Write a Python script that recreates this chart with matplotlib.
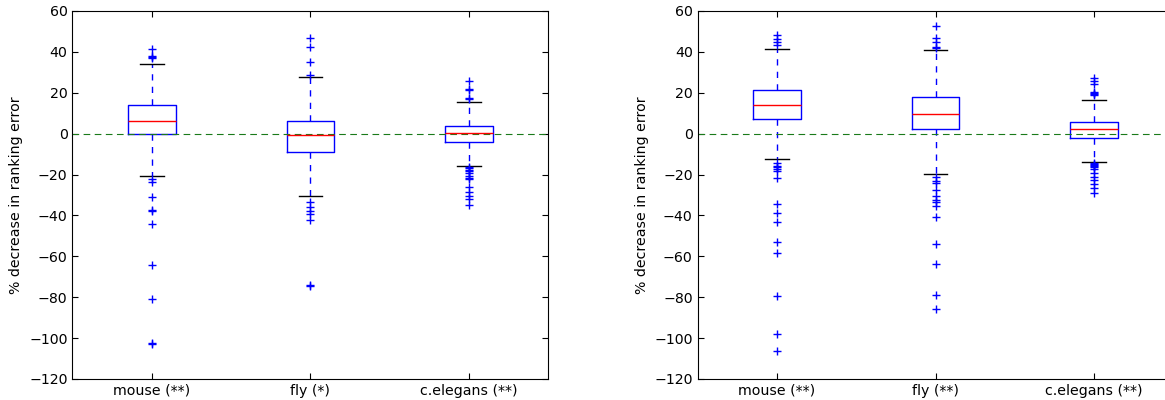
import matplotlib
matplotlib.use("Agg")
import matplotlib.pyplot as plt

categories_left = ["mouse (**)", "fly (*)", "c.elegans (**)"]
categories_right = ["mouse (**)", "fly (**)", "c.elegans (**)"]

# left panel: quartiles, medians, whisker ends, outliers
left_q1 = [0.0, -9.0, -4.1]
left_med = [6.4, -0.6, 0.3]
left_q3 = [13.9, 6.0, 3.6]
left_lo = [-20.5, -30.3, -15.8]
left_hi = [34.2, 27.9, 15.4]
left_fliers = [
    [37.0, 37.5, 38.2, 41.3, -22.3, -23.8, -31.0, -37.5, -38.0, -44.2, -64.2, -81.0, -102.3, -102.8],
    [28.7, 34.9, 42.4, 46.8, -33.3, -35.7, -37.7, -39.3, -42.0, -73.9, -74.3],
    [17.0, 17.3, 21.5, 22.0, 25.6, -16.4, -17.0, -17.8, -18.5, -19.4, -20.7, -21.5, -22.3,
     -25.9, -28.5, -30.3, -31.9, -35.1],
]

# right panel
right_q1 = [7.2, 2.4, -2.3]
right_med = [13.9, 9.8, 2.1]
right_q3 = [21.2, 18.1, 5.9]
right_lo = [-12.4, -19.9, -13.8]
right_hi = [41.6, 40.9, 16.6]
right_fliers = [
    [43.2, 44.9, 46.5, 48.3, -14.5, -15.6, -16.1, -17.1, -18.2, -21.8, -34.6, -38.6, -43.3,
     -53.0, -58.4, -79.4, -97.8, -106.2],
    [41.9, 42.6, 45.0, 46.7, 52.7, -21.3, -23.1, -24.3, -27.6, -30.5, -32.4, -33.3, -35.4,
     -41.0, -54.0, -63.6, -78.9, -85.6],
    [18.9, 19.3, 19.8, 20.6, 24.3, 25.9, 27.4, -14.5, -15.0, -15.5, -16.0, -16.5, -17.5,
     -19.4, -21.0, -22.6, -24.8, -26.7, -28.9],
]

plt.rcParams["font.family"] = "DejaVu Sans"
plt.rcParams["font.size"] = 10.2

fig = plt.figure(figsize=(11.65, 4.0), dpi=100)
W, H = 1165.0, 400.0
ax1 = fig.add_axes([72.4 / W, 21 / H, 476 / W, 368 / H])
ax2 = fig.add_axes([697.5 / W, 21 / H, 476 / W, 368 / H])


def draw(ax, cats, q1, med, q3, lo, hi, fliers):
    stats = []
    for i in range(len(cats)):
        stats.append(dict(med=med[i], q1=q1[i], q3=q3[i], whislo=lo[i],
                          whishi=hi[i], fliers=fliers[i], label=cats[i]))
    ax.bxp(stats, positions=[1, 2, 3], widths=0.3,
           boxprops=dict(color="b", lw=1),
           medianprops=dict(color="r", lw=1),
           whiskerprops=dict(color="b", lw=1, linestyle=(0, (4.5, 4.5))),
           capprops=dict(color="k", lw=1),
           flierprops=dict(marker="+", markeredgecolor="b", markersize=5.5,
                           linestyle="none"))
    ax.axhline(0, color="#1a7a1a", lw=0.8, linestyle=(0, (6, 4)))
    ax.set_xlim(0.5, 3.5)
    ax.set_ylim(-120, 60)
    ax.set_yticks(range(-120, 61, 20))
    ax.set_ylabel("% decrease in ranking error")
    ax.tick_params(direction="in", top=True, right=True, length=4)


draw(ax1, categories_left, left_q1, left_med, left_q3, left_lo, left_hi, left_fliers)
draw(ax2, categories_right, right_q1, right_med, right_q3, right_lo, right_hi, right_fliers)

fig.savefig("out.png", dpi=100)
